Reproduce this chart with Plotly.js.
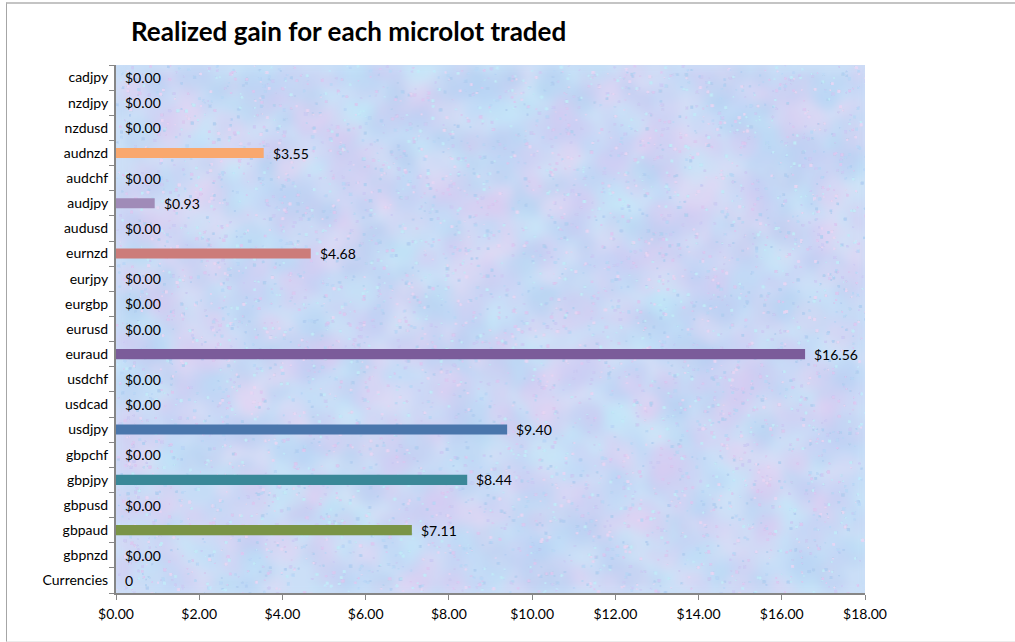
<!DOCTYPE html>
<html>
<head>
<meta charset="utf-8">
<script src="https://cdn.plot.ly/plotly-3.0.1.min.js"></script>
<style>
html,body{margin:0;padding:0;background:#fff;}
#chart{position:absolute;left:0;top:0;width:1015px;height:642px;}
#frame{position:absolute;left:6px;top:2px;width:1020px;height:637px;border-left:1px solid #a6a6a6;border-top:2px solid #c4c4c4;border-bottom:1px solid #ececec;pointer-events:none;}
</style>
</head>
<body>
<div id="chart"></div>
<div id="frame"></div>
<script>
// Categories, bottom to top
const categories = ["Currencies","gbpnzd","gbpaud","gbpusd","gbpjpy","gbpchf","usdjpy","usdcad","usdchf","euraud","eurusd","eurgbp","eurjpy","eurnzd","audusd","audjpy","audchf","audnzd","nzdusd","nzdjpy","cadjpy"];
const gains = [0,0,7.11,0,8.44,0,9.40,0,0,16.56,0,0,0,4.68,0,0.93,0,3.55,0,0,0];
const valueLabels = ["0","$0.00","$7.11","$0.00","$8.44","$0.00","$9.40","$0.00","$0.00","$16.56","$0.00","$0.00","$0.00","$4.68","$0.00","$0.93","$0.00","$3.55","$0.00","$0.00","$0.00"];
const barColors = ["#4a76ac","#4a76ac","#7a9446","#4a76ac","#3a8898","#4a76ac","#4a76ac","#4a76ac","#4a76ac","#7b5c9a","#4a76ac","#4a76ac","#4a76ac","#cc7c7a","#4a76ac","#a08bb8","#4a76ac","#f9a86e","#4a76ac","#4a76ac","#4a76ac"];
const xTickVals = [0,2,4,6,8,10,12,14,16,18];
const xTickText = ["$0.00","$2.00","$4.00","$6.00","$8.00","$10.00","$12.00","$14.00","$16.00","$18.00"];

const font = "Lato, 'Open Sans', sans-serif";

// decorative paper-like texture for the plot background (deterministic)
function makeTexture() {
  const w = 750, h = 528;
  const base = document.createElement("canvas");
  base.width = w; base.height = h;
  const b = base.getContext("2d");
  b.fillStyle = "#cbdff7";
  b.fillRect(0, 0, w, h);
  let s = 98765;
  const rnd = () => { s = (s * 1103515245 + 12345) & 0x7fffffff; return s / 0x7fffffff; };
  const cols = ["222,200,240", "186,214,246", "196,234,248", "204,204,244", "232,214,244", "178,206,242"];
  for (let i = 0; i < 2500; i++) {
    const x = rnd() * w, y = rnd() * h, r = 5 + rnd() * 14;
    b.fillStyle = "rgba(" + cols[Math.floor(rnd() * cols.length)] + ",0.35)";
    b.beginPath(); b.arc(x, y, r, 0, Math.PI * 2); b.fill();
  }
  const cv = document.createElement("canvas");
  cv.width = w; cv.height = h;
  const ctx = cv.getContext("2d");
  ctx.filter = "blur(5px)";
  ctx.drawImage(base, 0, 0);
  ctx.filter = "none";
  for (let i = 0; i < 30000; i++) {
    const x = rnd() * w, y = rnd() * h, r = 1 + rnd() * 2;
    ctx.fillStyle = "rgba(" + cols[Math.floor(rnd() * cols.length)] + ",0.35)";
    ctx.fillRect(x, y, r, r);
  }
  return cv.toDataURL("image/png");
}

const trace = {
  type: "bar",
  orientation: "h",
  y: categories,
  x: gains,
  marker: {color: barColors},
  hoverinfo: "none"
};

const annotations = categories.map((c, i) => ({
  x: gains[i], y: c, xref: "x", yref: "y",
  text: valueLabels[i], showarrow: false,
  xanchor: "left", yanchor: "middle", xshift: 7,
  font: {family: font, size: 14, color: "#000"}
}));

const layout = {
  width: 1015, height: 642,
  margin: {l: 116, r: 150, t: 65, b: 49, pad: 0},
  paper_bgcolor: "#ffffff",
  plot_bgcolor: "#cbdff7",
  showlegend: false,
  bargap: 0.6,
  title: {
    text: "<b>Realized gain for each microlot traded</b>",
    x: 131/1015, xanchor: "left", xref: "container",
    y: 1 - 32/642, yanchor: "middle", yref: "container",
    font: {family: font, size: 26, color: "#000"}
  },
  images: [{
    source: makeTexture(), xref: "paper", yref: "paper",
    x: 0, y: 1, sizex: 1, sizey: 1, sizing: "stretch",
    xanchor: "left", yanchor: "top", layer: "below"
  }],
  xaxis: {
    range: [0, 18],
    tickvals: xTickVals, ticktext: xTickText,
    showgrid: false, zeroline: false,
    showline: true, linecolor: "#868686", linewidth: 2,
    ticks: "outside", ticklen: 5, tickcolor: "#868686", tickwidth: 1,
    tickfont: {family: font, size: 14, color: "#000"},
    ticklabelstandoff: 2,
    fixedrange: true
  },
  yaxis: {
    type: "category",
    categoryorder: "array", categoryarray: categories,
    range: [-0.5, categories.length - 0.5],
    showgrid: false, zeroline: false,
    showline: true, linecolor: "#868686", linewidth: 2,
    ticks: "outside", ticklen: 5, tickcolor: "#868686", tickwidth: 1,
    tickson: "boundaries",
    tickfont: {family: font, size: 14, color: "#000"},
    ticklabelstandoff: 3,
    fixedrange: true
  },
  annotations: annotations
};

Plotly.newPlot("chart", [trace], layout, {displayModeBar: false, staticPlot: true});
</script>
</body>
</html>
